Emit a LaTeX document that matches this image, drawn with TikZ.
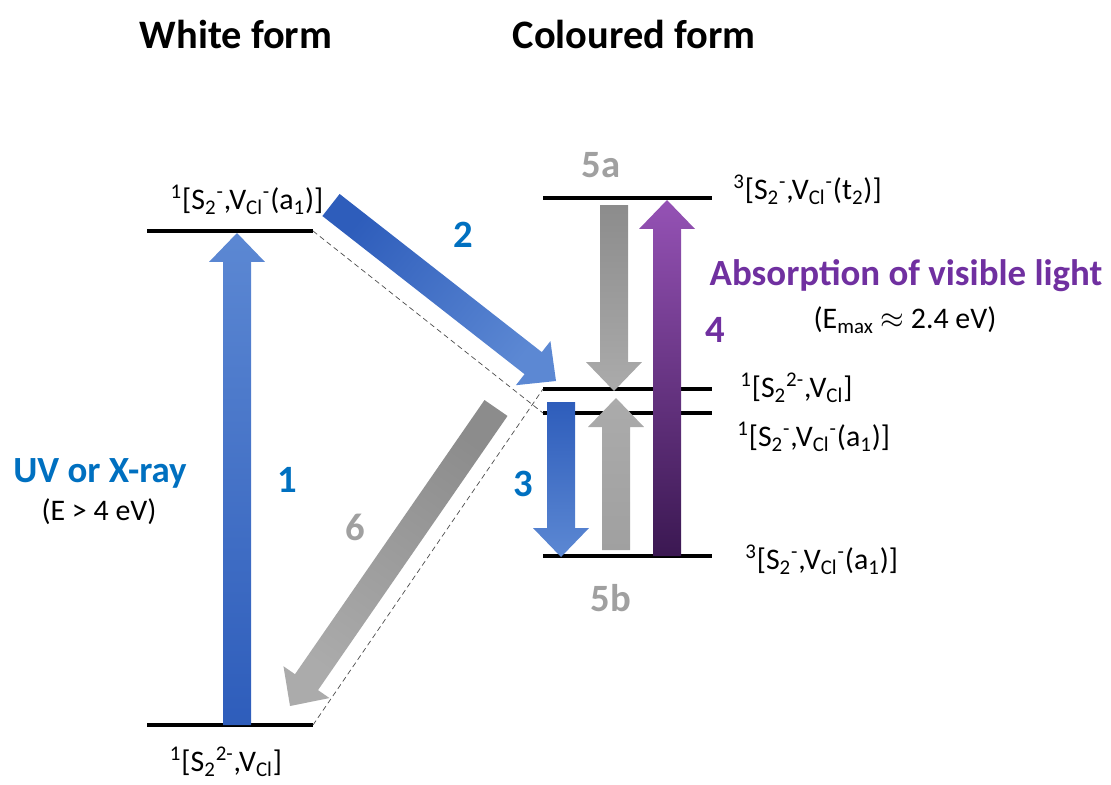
\documentclass[tikz,border=0pt]{standalone}
\usepackage{fontspec}
\setmainfont{Carlito}
\usepackage{tikz}
\usetikzlibrary{calc}
\usepackage{xcolor}

\definecolor{uvblue}{HTML}{0070C0}
\definecolor{vispurple}{HTML}{7030A0}
\definecolor{numgray}{HTML}{A0A0A0}
\definecolor{bluedark}{HTML}{2E5DBB}
\definecolor{bluelight}{HTML}{5C88D3}
\definecolor{greydark}{HTML}{8C8C8C}
\definecolor{greylight}{HTML}{ABABAB}
\definecolor{purptop}{HTML}{9552B5}
\definecolor{purpbot}{HTML}{3B1852}

\newcommand{\Stwo}[1]{S\textsubscript{2}\textsuperscript{#1}}
\newcommand{\VCl}{V\textsubscript{Cl}}

\newcommand{\shaftw}{0.28cm}
\newcommand{\headw}{0.56cm}
\newcommand{\headl}{0.58cm}
% fat arrow from #2 to #3
\newcommand{\fatarrow}[3][]{%
  \coordinate (hb) at ($(#3)!\headl!(#2)$);
  \shade[#1] ($(#2)!\shaftw!90:(#3)$) -- ($(hb)!\shaftw!90:(#3)$) -- ($(hb)!\headw!90:(#3)$)
    -- (#3) -- ($(hb)!\headw!-90:(#3)$) -- ($(hb)!\shaftw!-90:(#3)$) -- ($(#2)!\shaftw!-90:(#3)$) -- cycle;
}

\begin{document}
\begin{tikzpicture}[
    x=0.02cm, y=-0.02cm,
    level/.style={line width=2.2pt},
    state/.style={font=\fontsize{17}{20}\selectfont, inner sep=0pt},
    title/.style={font=\fontsize{23}{28}\selectfont\bfseries},
    num/.style={font=\fontsize{22}{26}\selectfont\bfseries, text=#1},
    note/.style={font=\fontsize{21}{25}\selectfont\bfseries, text=#1},
]
    \useasboundingbox (0,0) rectangle (1111,784);

    \node[title] (twhite) at (236,34) {White form};
    \node[title] (tcol) at (634,34) {Coloured form};

    % energy levels
    \draw[level] (147,231) coordinate (w1w) -- (313,231) coordinate (w1e);
    \draw[level] (147,725) coordinate (w0w) -- (313,725) coordinate (w0e);
    \draw[level] (543,198) coordinate (c3w) -- (712,198) coordinate (c3e);
    \draw[level] (543,389) coordinate (c2w) -- (712,389) coordinate (c2e);
    \draw[level] (543,413) coordinate (c1w) -- (712,413) coordinate (c1e);
    \draw[level] (543,556) coordinate (c0w) -- (712,556) coordinate (c0e);

    \draw[densely dashed, line width=0.4pt, black!70] (w1e) -- (c1w);
    \draw[densely dashed, line width=0.4pt, black!70] (w0e) -- (c2w);

    \node[state] (lw1) at (247,200) {\textsuperscript{1}[\Stwo{-},\VCl\textsuperscript{-}(a\textsubscript{1})]};
    \node[state] (lw0) at (226,762) {\textsuperscript{1}[\Stwo{2-},\VCl]};
    \node[state, anchor=west] (lc3) at (733,190) {\textsuperscript{3}[\Stwo{-},\VCl\textsuperscript{-}(t\textsubscript{2})]};
    \node[state, anchor=west] (lc2) at (740,388) {\textsuperscript{1}[\Stwo{2-},\VCl]};
    \node[state, anchor=west] (lc1) at (737,437) {\textsuperscript{1}[\Stwo{-},\VCl\textsuperscript{-}(a\textsubscript{1})]};
    \node[state, anchor=west] (lc0) at (745,560) {\textsuperscript{3}[\Stwo{-},\VCl\textsuperscript{-}(a\textsubscript{1})]};

    % transitions
    \coordinate (a1s) at (237,725);  \coordinate (a1e) at (237,233);
    \coordinate (a2s) at (331,205);  \coordinate (a2e) at (556,381);
    \coordinate (a3s) at (561,402);  \coordinate (a3e) at (561,557);
    \coordinate (a4s) at (667,556);  \coordinate (a4e) at (667,200);
    \coordinate (a5as) at (614,205); \coordinate (a5ae) at (614,391);
    \coordinate (a5bs) at (616,550); \coordinate (a5be) at (616,398);
    \coordinate (a6s) at (496,408);  \coordinate (a6e) at (290,706);

    \fatarrow[top color=bluelight, bottom color=bluedark]{a1s}{a1e}
    \fatarrow[top color=bluedark, bottom color=bluelight, shading angle=51]{a2s}{a2e}
    \fatarrow[top color=bluedark, bottom color=bluelight]{a3s}{a3e}
    \fatarrow[top color=purptop, bottom color=purpbot]{a4s}{a4e}
    \fatarrow[top color=greydark, bottom color=greylight]{a5as}{a5ae}
    \fatarrow[top color=greylight, bottom color=numgray]{a5bs}{a5be}
    \fatarrow[top color=greydark, bottom color=greylight, shading angle=-35]{a6s}{a6e}

    \node[num=uvblue] (n1) at (287,480) {1};
    \node[num=uvblue] (n2) at (463,235) {2};
    \node[num=uvblue] (n3) at (523,484) {3};
    \node[num=vispurple] (n4) at (715,330) {4};
    \node[num=numgray] (n5a) at (601,165) {5a};
    \node[num=numgray] (n5b) at (611,598) {5b};
    \node[num=numgray] (n6) at (355,527) {6};

    \node[note=uvblue] (uv) at (100,473) {UV or X-ray};
    \node[state] (uve) at (99,512) {(E > 4 eV)};
    \node[note=vispurple] (abs) at (906,276) {Absorption of visible light};
    \node[state] (abse) at (905,320) {(E\textsubscript{max} \ensuremath{\approx} 2.4 eV)};
\end{tikzpicture}
\end{document}
